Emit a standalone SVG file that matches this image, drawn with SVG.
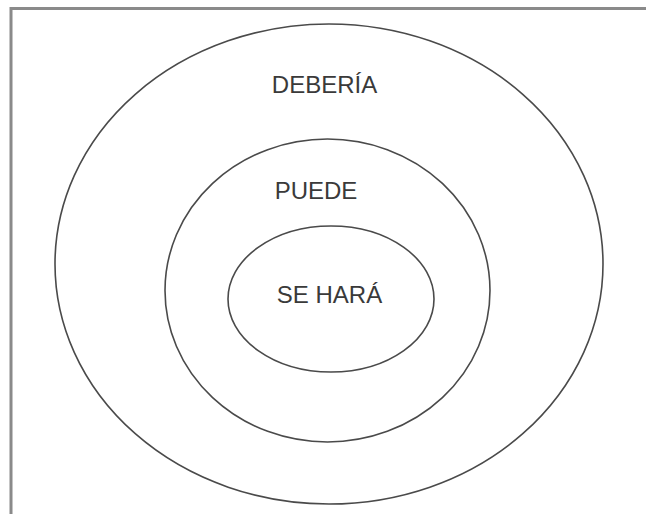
<svg xmlns="http://www.w3.org/2000/svg" width="646" height="514" viewBox="0 0 646 514">
<style>
.ring{fill:none;stroke:#4a4a4a;stroke-width:1.6}
.lbl{font-family:"Liberation Sans",Arial,sans-serif;font-size:24px;fill:#3a3a3a;text-anchor:middle}
.frame{stroke:#8a8a8a;stroke-width:3;fill:none}
</style>
<rect width="646" height="514" fill="#ffffff"/>
<path class="frame" d="M11,514 V8.5 H646"/>
<g id="deberia">
<ellipse class="ring" cx="329" cy="264" rx="274" ry="240"/>
<text class="lbl" x="324.5" y="93">DEBERÍA</text>
</g>
<g id="puede">
<ellipse class="ring" cx="327.5" cy="290.5" rx="162.5" ry="151.5"/>
<text class="lbl" x="316" y="199">PUEDE</text>
</g>
<g id="se-hara">
<ellipse class="ring" cx="331" cy="299" rx="103" ry="73"/>
<text class="lbl" x="329.5" y="303">SE HARÁ</text>
</g>
<g id="connectors"/>
</svg>
